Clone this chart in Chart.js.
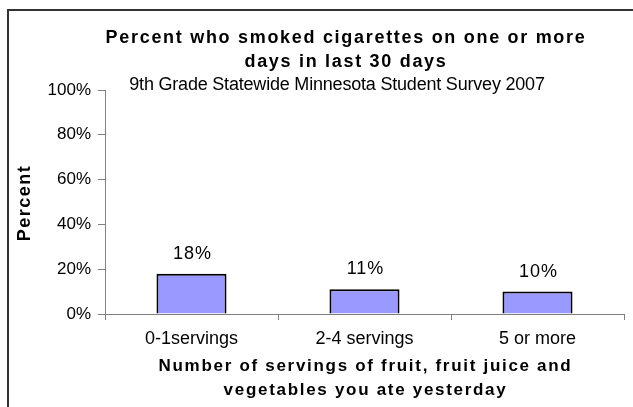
<!DOCTYPE html>
<html>
<head>
<meta charset="utf-8">
<script src="https://cdn.jsdelivr.net/npm/chart.js@4.4.0/dist/chart.umd.min.js"></script>
<style>
  html, body { margin: 0; padding: 0; background: #fff; }
  #wrap { width: 633px; height: 407px; position: relative; }
</style>
</head>
<body>
<div id="wrap"><canvas id="chart" width="633" height="407"></canvas></div>
<script>
// chart data
const categories = ['0-1servings', '2-4 servings', '5 or more'];
const percentSmoked = [18, 11, 10];
const yTicks = [0, 20, 40, 60, 80, 100];

const titleLines = ['Percent who smoked cigarettes on one or more', 'days in last 30 days'];
const subtitleText = '9th Grade Statewide Minnesota Student Survey 2007';
const xTitleLines = ['Number of servings of fruit, fruit juice and', 'vegetables you ate yesterday'];
const yTitleText = 'Percent';

const FONT = '"Liberation Sans", Arial, sans-serif';

// frame, titles and axis titles (wide letter spacing, so drawn by hand)
const textPlugin = {
    id: 'texts',
    beforeDraw: function (chart) {
        const ctx = chart.ctx;
        ctx.save();
        ctx.fillStyle = '#fff';
        ctx.fillRect(0, 0, chart.width, chart.height);
        ctx.strokeStyle = '#333';
        ctx.lineWidth = 2;
        ctx.beginPath();
        ctx.moveTo(8, chart.height + 5);
        ctx.lineTo(8, 10);
        ctx.lineTo(chart.width + 5, 10);
        ctx.stroke();
        ctx.restore();
    },
    afterDraw: function (chart) {
        const ctx = chart.ctx;
        const area = chart.chartArea;
        const midX = (area.left + area.right) / 2;
        const midY = (area.top + area.bottom) / 2;
        ctx.save();
        ctx.fillStyle = '#000';
        ctx.textAlign = 'center';
        ctx.textBaseline = 'middle';

        ctx.font = 'bold 18px ' + FONT;
        ctx.letterSpacing = '1.7px';
        titleLines.forEach(function (t, i) {
            ctx.fillText(t, 346, 38 + i * 24);
        });

        ctx.font = '18px ' + FONT;
        ctx.letterSpacing = '-0.2px';
        ctx.fillText(subtitleText, 337, 85);

        ctx.font = 'bold 17px ' + FONT;
        ctx.letterSpacing = '1.7px';
        xTitleLines.forEach(function (t, i) {
            ctx.fillText(t, midX + 1, 366 + i * 24);
        });

        ctx.translate(25, midY + 1);
        ctx.rotate(-Math.PI / 2);
        ctx.font = 'bold 18px ' + FONT;
        ctx.letterSpacing = '1.5px';
        ctx.fillText(yTitleText, 0, 0);
        ctx.restore();
    }
};

// value labels above each bar
const valueLabels = {
    id: 'valueLabels',
    afterDatasetsDraw: function (chart) {
        const ctx = chart.ctx;
        const meta = chart.getDatasetMeta(0);
        ctx.save();
        ctx.fillStyle = '#000';
        ctx.font = '18px ' + FONT;
        ctx.letterSpacing = '1px';
        ctx.textAlign = 'center';
        ctx.textBaseline = 'middle';
        meta.data.forEach(function (bar, i) {
            ctx.fillText(percentSmoked[i] + '%', bar.x + 1, bar.y - 20);
        });
        ctx.restore();
    }
};

new Chart(document.getElementById('chart'), {
    type: 'bar',
    data: {
        labels: categories,
        datasets: [{
            data: percentSmoked,
            backgroundColor: '#9999FF',
            borderColor: '#000',
            borderWidth: 2,
            categoryPercentage: 1,
            barPercentage: 0.405
        }]
    },
    options: {
        responsive: false,
        animation: false,
        layout: { padding: { left: 0, right: 9, top: 90, bottom: 0 } },
        plugins: {
            legend: { display: false },
            tooltip: { enabled: false },
            title: { display: false }
        },
        scales: {
            x: {
                afterFit: function (scale) { scale.height = 93; },
                grid: { drawOnChartArea: false, offset: true, tickLength: 6, color: '#808080' },
                border: { color: '#808080', width: 1 },
                ticks: { color: '#000', font: { family: FONT, size: 18 }, padding: 8 }
            },
            y: {
                min: 0,
                max: 100,
                afterFit: function (scale) { scale.width = 105; },
                afterBuildTicks: function (scale) {
                    scale.ticks = yTicks.map(function (v) { return { value: v }; });
                },
                grid: { drawOnChartArea: false, tickLength: 7, color: '#808080' },
                border: { color: '#808080', width: 1 },
                ticks: {
                    color: '#000',
                    font: { family: FONT, size: 17 },
                    padding: 7,
                    callback: function (v) { return v + '%'; }
                }
            }
        }
    },
    plugins: [textPlugin, valueLabels]
});
</script>
</body>
</html>
